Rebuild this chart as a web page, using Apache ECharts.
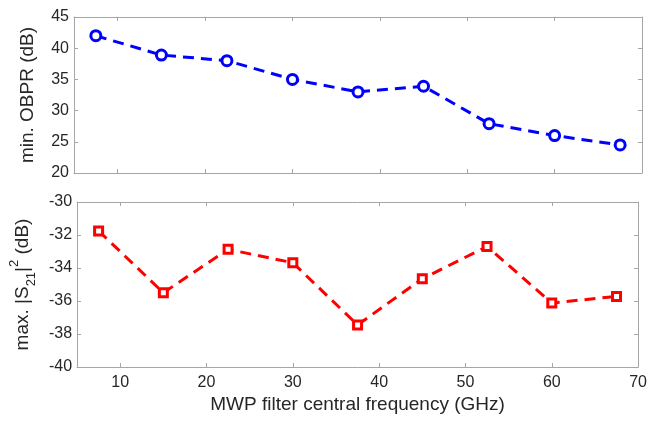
<!DOCTYPE html>
<html>
<head>
<meta charset="utf-8">
<script src="https://cdn.jsdelivr.net/npm/echarts@6/dist/echarts.min.js"></script>
<style>
  html, body { margin: 0; padding: 0; background: #fff; }
  #main { width: 650px; height: 421px; }
</style>
</head>
<body>
<div id="main"></div>
<script>
// centre frequencies (GHz)
const freqs = [7.5, 15, 22.5, 30, 37.5, 45, 52.5, 60, 67.5];
// min. OBPR (dB)
const obpr = [42, 38.9, 38, 35, 33, 33.9, 27.9, 26, 24.5];
// max. |S21|^2 (dB)
const s21 = [-31.75, -35.5, -32.87, -33.68, -37.45, -34.65, -32.7, -36.12, -35.72];
// x tick values
const xTicks = [10, 20, 30, 40, 50, 60, 70];

const axisGray = "#a6a6a6";
const textColor = "#262626";
const font = "'Liberation Sans', Arial, sans-serif";

const chart = echarts.init(document.getElementById("main"), null, { renderer: "canvas" });

function xAx(grid, pos, showLabels, name) {
  return {
    type: "value",
    gridIndex: grid,
    position: pos,
    min: 5,
    max: 70,
    axisLine: { show: true, onZero: false, lineStyle: { color: axisGray, width: 1 } },
    axisTick: { show: true, inside: true, length: 4, customValues: xTicks, lineStyle: { color: axisGray } },
    axisLabel: {
      show: showLabels,
      customValues: xTicks,
      color: textColor,
      fontSize: 16,
      fontFamily: font,
      margin: 8,
    },
    splitLine: { show: false },
    name: name || "",
    nameLocation: "middle",
    nameGap: 28,
    nameTextStyle: { color: textColor, fontSize: 19, fontFamily: font },
  };
}

function yAx(grid, pos, min, max, interval, showLabels, name, nameRich, gap) {
  return {
    type: "value",
    gridIndex: grid,
    position: pos,
    min: min,
    max: max,
    interval: interval,
    axisLine: { show: true, onZero: false, lineStyle: { color: axisGray, width: 1 } },
    axisTick: { show: true, inside: true, length: 4, lineStyle: { color: axisGray } },
    axisLabel: {
      show: showLabels,
      color: textColor,
      fontSize: 16,
      fontFamily: font,
      margin: 5,
    },
    splitLine: { show: false },
    name: name || "",
    nameLocation: "middle",
    nameGap: gap || 36,
    nameTextStyle: {
      color: textColor,
      fontSize: 19,
      fontFamily: font,
      rich: nameRich || {},
    },
  };
}

const supSub = {
  n: { fontSize: 19, fontFamily: font, color: textColor, lineHeight: 30, verticalAlign: "middle" },
  sup: { fontSize: 13, fontFamily: font, color: textColor, lineHeight: 30, verticalAlign: "top" },
  sub: { fontSize: 13, fontFamily: font, color: textColor, lineHeight: 30, verticalAlign: "bottom" },
};

chart.setOption({
  backgroundColor: "#fff",
  animation: false,
  grid: [
    { left: 74, top: 17, right: 8, height: 156, containLabel: false },
    { left: 74, top: 202, right: 8, height: 165, containLabel: false },
  ],
  xAxis: [
    xAx(0, "bottom", false),
    xAx(0, "top", false),
    xAx(1, "bottom", true, "MWP filter central frequency (GHz)"),
    xAx(1, "top", false),
  ],
  yAxis: [
    yAx(0, "left", 20, 45, 5, true, "min. OBPR (dB)", null, 37),
    yAx(0, "right", 20, 45, 5, false),
    yAx(1, "left", -40, -30, 2, true,
      "{n|max. |S}{sub|21}{n||}{sup|2}{n| (dB)}", supSub, 34),
    yAx(1, "right", -40, -30, 2, false),
  ],
  series: [
    {
      name: "OBPR",
      type: "line",
      xAxisIndex: 0,
      yAxisIndex: 0,
      data: freqs.map((f, i) => [f, obpr[i]]),
      symbol: "circle",
      symbolSize: 10,
      showAllSymbol: true,
      lineStyle: { color: "#0000ff", width: 3, type: [11, 7] },
      itemStyle: { color: "#fff", borderColor: "#0000ff", borderWidth: 3 },
    },
    {
      name: "S21",
      type: "line",
      xAxisIndex: 2,
      yAxisIndex: 2,
      data: freqs.map((f, i) => [f, s21[i]]),
      symbol: "rect",
      symbolSize: 8,
      showAllSymbol: true,
      lineStyle: { color: "#ff0000", width: 3, type: [11, 7] },
      itemStyle: { color: "#fff", borderColor: "#ff0000", borderWidth: 3 },
    },
  ],
});
</script>
</body>
</html>
